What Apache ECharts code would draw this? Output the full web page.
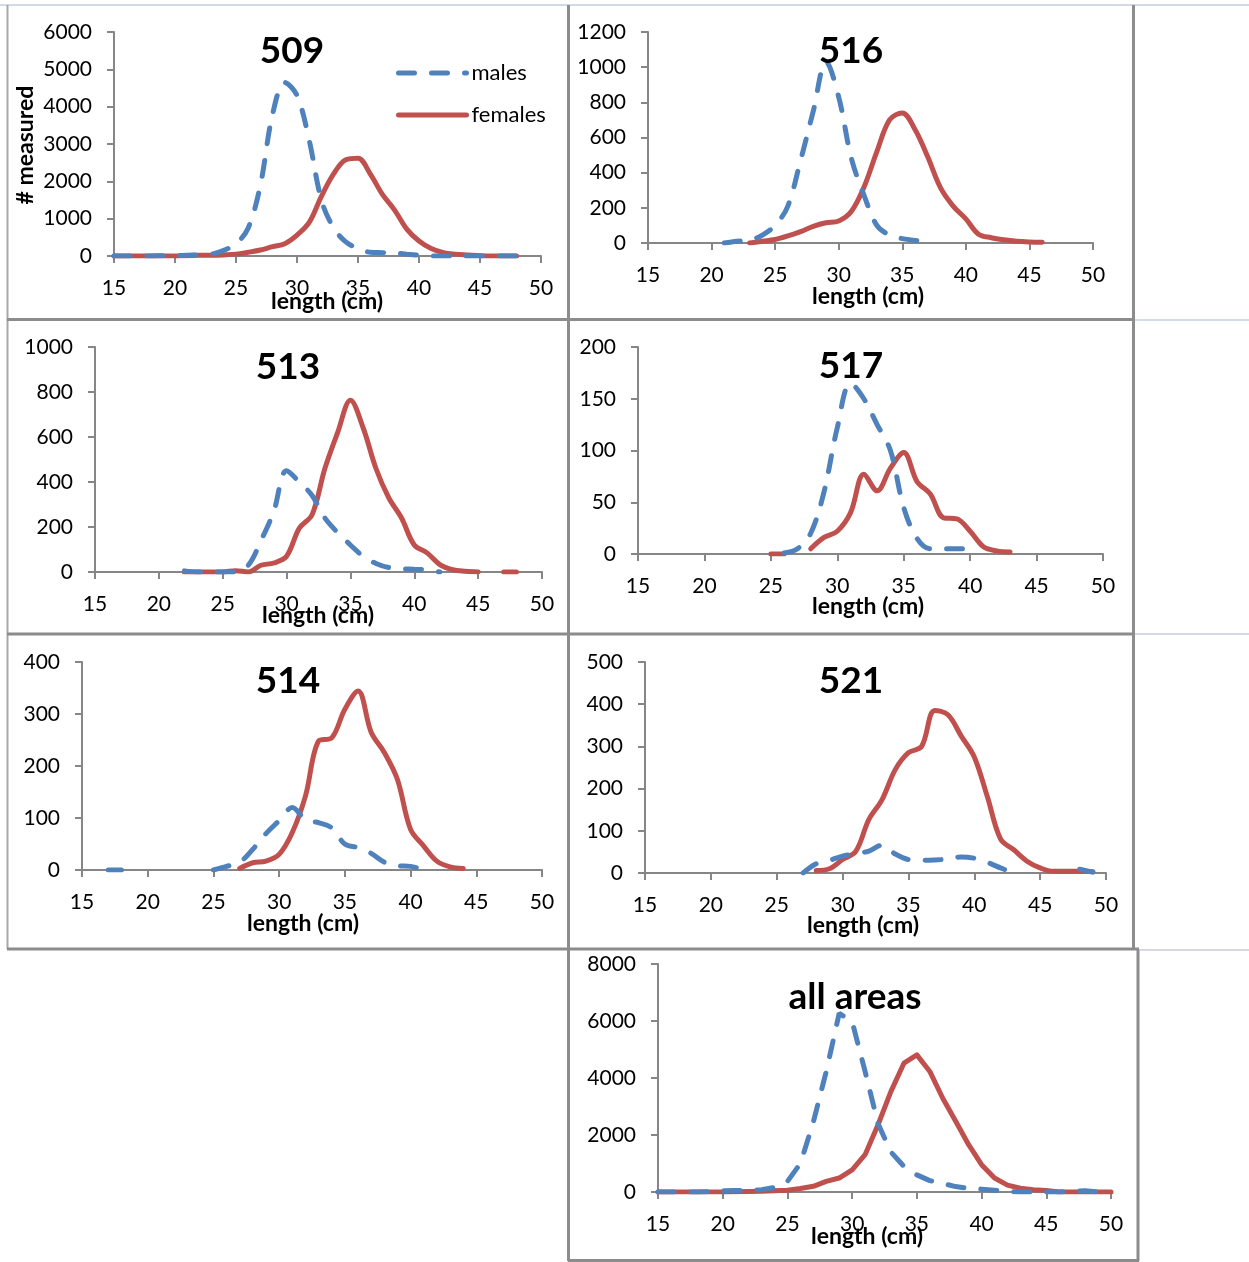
<!DOCTYPE html>
<html lang="en">
<head>
<meta charset="UTF-8">
<title>length frequency by area</title>
<style>
  body { margin: 0; background: #fff; }
  #chart { width: 1249px; height: 1262px; }
</style>
</head>
<body>
<div id="chart"></div>
<script src="https://cdn.jsdelivr.net/npm/echarts@6/dist/echarts.min.js"></script>
<script>
// length classes, cm
var lengths = [15,16,17,18,19,20,21,22,23,24,25,26,27,28,29,30,31,32,33,34,35,36,37,38,39,40,41,42,43,44,45,46,47,48,49,50];
var N = null;

// number measured per length class (15..50 cm)
var males509   = [0,0,0,0,10,10,20,30,50,150,330,750,1900,3800,4650,4300,3100,1500,750,380,200,100,90,80,50,20,0,0,0,0,0,0,0,0,N,N];
var females509 = [0,0,0,0,0,0,10,20,20,30,50,100,160,250,330,560,900,1600,2200,2580,2620,2200,1650,1230,720,400,200,90,50,30,10,0,0,0,N,N];
var males516   = [N,N,N,N,N,N,0,10,15,45,100,210,470,750,1030,830,480,270,100,45,25,15,0,N,N,N,N,N,N,N,N,N,N,N,N,N];
var females516 = [N,N,N,N,N,N,N,N,0,10,20,40,65,95,115,125,180,320,520,700,740,645,490,315,210,137,50,30,18,10,6,4,N,N,N,N];
var males513   = [N,N,N,N,N,N,N,5,0,0,0,0,30,140,270,450,400,340,240,175,120,70,38,20,15,12,10,0,N,N,N,N,N,N,N,N];
var females513 = [N,N,N,N,N,N,N,0,0,0,0,6,0,30,40,70,195,255,460,620,763,640,460,330,240,120,85,33,10,3,0,N,0,0,N,N];
var males517   = [N,N,N,N,N,N,N,N,N,N,N,1,5,20,60,122,165,150,125,100,45,15,5,5,5,5,N,N,N,N,N,N,N,N,N,N];
var females517 = [N,N,N,N,N,N,N,N,N,N,0,0,N,5,16,22,40,77,61,83,98,70,58,35,34,22,7,3,2,N,N,N,N,N,N,N];
var males514   = [N,N,0,0,N,N,N,N,N,N,0,7,15,40,70,95,120,97,91,81,50,43,32,15,8,7,0,N,N,N,N,N,N,N,N,N];
var females514 = [N,N,N,N,N,N,N,N,N,N,N,N,3,14,17,30,72,142,248,254,309,344,265,226,174,78,46,17,6,3,N,N,N,N,N,N];
var males521   = [N,N,N,N,N,N,N,N,N,N,N,N,0,22,30,40,46,52,66,45,32,30,31,33,38,35,25,12,0,N,N,N,N,9,2,N];
var females521 = [N,N,N,N,N,N,N,N,N,N,N,N,N,6,10,32,51,127,174,245,285,300,385,375,325,275,180,80,55,28,12,4,4,4,3,N];
var malesAll   = [0,0,0,0,10,40,50,60,80,160,370,1000,2450,4230,6270,5980,4230,2400,1400,900,600,400,300,190,130,100,60,20,0,0,0,0,20,40,0,0];
var femalesAll = [0,0,0,0,0,0,10,20,30,40,60,120,200,370,490,780,1310,2360,3530,4520,4810,4230,3290,2480,1660,960,490,240,130,80,50,0,0,0,0,0];

var FONT = 'Lato';
var BLUE = '#4f81bd';
var RED = '#c0504d';
var AXIS = '#868686';
var FRAME = '#8c8c8c';
var PALE = '#d3dae6';
var LW = 5;
var DASH = [16, 17];

// panel layout: plot box [x0, y0, x1, y1], title and x-name centres
var panels = [
  { title: '509', m: males509, f: females509, max: 6000, step: 1000, box: [114, 32, 541, 256], t: [292, 51], xn: [327, 302], smooth: 0.35 },
  { title: '516', m: males516, f: females516, max: 1200, step: 200, box: [648, 32, 1093, 243], t: [851, 51], xn: [868, 297], smooth: 0.35 },
  { title: '513', m: males513, f: females513, max: 1000, step: 200, box: [95, 347, 542, 572], t: [288, 367], xn: [318, 616], smooth: 0.35 },
  { title: '517', m: males517, f: females517, max: 200, step: 50, box: [638, 347, 1103, 554], t: [851, 366], xn: [868, 607], smooth: 0.35 },
  { title: '514', m: males514, f: females514, max: 400, step: 100, box: [82, 662, 542, 870], t: [288, 681], xn: [303, 924], smooth: 0.35 },
  { title: '521', m: males521, f: females521, max: 500, step: 100, box: [645, 662, 1106, 873], t: [851, 681], xn: [863, 926], smooth: 0.35 },
  { title: 'all areas', m: malesAll, f: femalesAll, max: 8000, step: 2000, box: [658, 964, 1111, 1192], t: [855, 997], xn: [867, 1237], smooth: false }
];

function pairs(arr) {
  return lengths.map(function (x, i) { return [x, arr[i]]; });
}

var grids = [], xAxes = [], yAxes = [], series = [], graphics = [];

panels.forEach(function (p, i) {
  var b = p.box;
  grids.push({ left: b[0], top: b[1], width: b[2] - b[0], height: b[3] - b[1], containLabel: false });
  xAxes.push({
    gridIndex: i, type: 'value', min: 15, max: 50, interval: 5,
    axisLine: { onZero: false, lineStyle: { color: AXIS, width: 2 } },
    axisTick: { length: 7, lineStyle: { color: AXIS, width: 2 } },
    axisLabel: { margin: 22, fontSize: 21, color: '#000', fontFamily: FONT },
    splitLine: { show: false }
  });
  yAxes.push({
    gridIndex: i, type: 'value', min: 0, max: p.max, interval: p.step,
    axisLine: { show: true, lineStyle: { color: AXIS, width: 2 } },
    axisTick: { show: true, length: 7, lineStyle: { color: AXIS, width: 2 } },
    axisLabel: { margin: 22, fontSize: 21, color: '#000', fontFamily: FONT, formatter: function (v) { return String(v); } },
    splitLine: { show: false }
  });
  series.push({
    name: 'males', type: 'line', xAxisIndex: i, yAxisIndex: i,
    data: pairs(p.m), symbol: 'none', smooth: p.smooth,
    lineStyle: { color: BLUE, width: LW, type: DASH, cap: 'round' },
    itemStyle: { color: BLUE }, z: 3
  });
  series.push({
    name: 'females', type: 'line', xAxisIndex: i, yAxisIndex: i,
    data: pairs(p.f), symbol: 'none', smooth: p.smooth,
    lineStyle: { color: RED, width: LW, cap: 'round', join: 'round' },
    itemStyle: { color: RED }, z: 2
  });
  graphics.push({
    type: 'text', x: p.t[0], y: p.t[1], z: 10,
    style: { text: p.title, fontFamily: FONT, fontWeight: 'bold', fontSize: 37, fill: '#000', align: 'center', verticalAlign: 'middle' }
  });
  graphics.push({
    type: 'text', x: p.xn[0], y: p.xn[1], z: 10,
    style: { text: 'length (cm)', fontFamily: FONT, fontWeight: 'bold', fontSize: 23, fill: '#000', align: 'center', verticalAlign: 'middle' }
  });
});

// y axis name on the first panel
graphics.push({
  type: 'text', x: 26, y: 145, rotation: Math.PI / 2, z: 10,
  style: { text: '# measured', fontFamily: FONT, fontWeight: 'bold', fontSize: 23, fill: '#000', align: 'center', verticalAlign: 'middle' }
});

// cell frame
function line(x1, y1, x2, y2, color, w) {
  return { type: 'line', shape: { x1: x1, y1: y1, x2: x2, y2: y2 }, style: { stroke: color, lineWidth: w }, z: 1 };
}
graphics.push(line(0, 5, 1249, 5, PALE, 2));
graphics.push(line(7.5, 5, 7.5, 949, '#a8a8a8', 2));
graphics.push(line(568.5, 5, 568.5, 1261, FRAME, 3));
graphics.push(line(1133.5, 5, 1133.5, 949, FRAME, 3));
graphics.push(line(7, 319.5, 1133, 319.5, FRAME, 3));
graphics.push(line(7, 634, 1133, 634, FRAME, 3));
graphics.push(line(7, 949, 1139, 949, FRAME, 3));
graphics.push(line(1138, 949, 1138, 1261, FRAME, 3));
graphics.push(line(568, 1260.5, 1139, 1260.5, FRAME, 3));
graphics.push(line(1135, 320, 1249, 320, PALE, 2));
graphics.push(line(1135, 634, 1249, 634, PALE, 2));
graphics.push(line(1140, 950, 1249, 950, PALE, 2));

var chart = echarts.init(document.getElementById('chart'), null, { renderer: 'canvas' });
chart.setOption({
  animation: false,
  backgroundColor: '#fff',
  textStyle: { fontFamily: FONT },
  legend: {
    data: ['males', 'females'],
    orient: 'vertical', left: 396, top: 62, padding: 0,
    itemWidth: 68, itemHeight: 24, itemGap: 20,
    itemStyle: { opacity: 0 },
    textStyle: { fontSize: 22, color: '#000', fontFamily: FONT },
    lineStyle: { width: LW }
  },
  grid: grids,
  xAxis: xAxes,
  yAxis: yAxes,
  series: series,
  graphic: graphics
});
</script>
</body>
</html>
